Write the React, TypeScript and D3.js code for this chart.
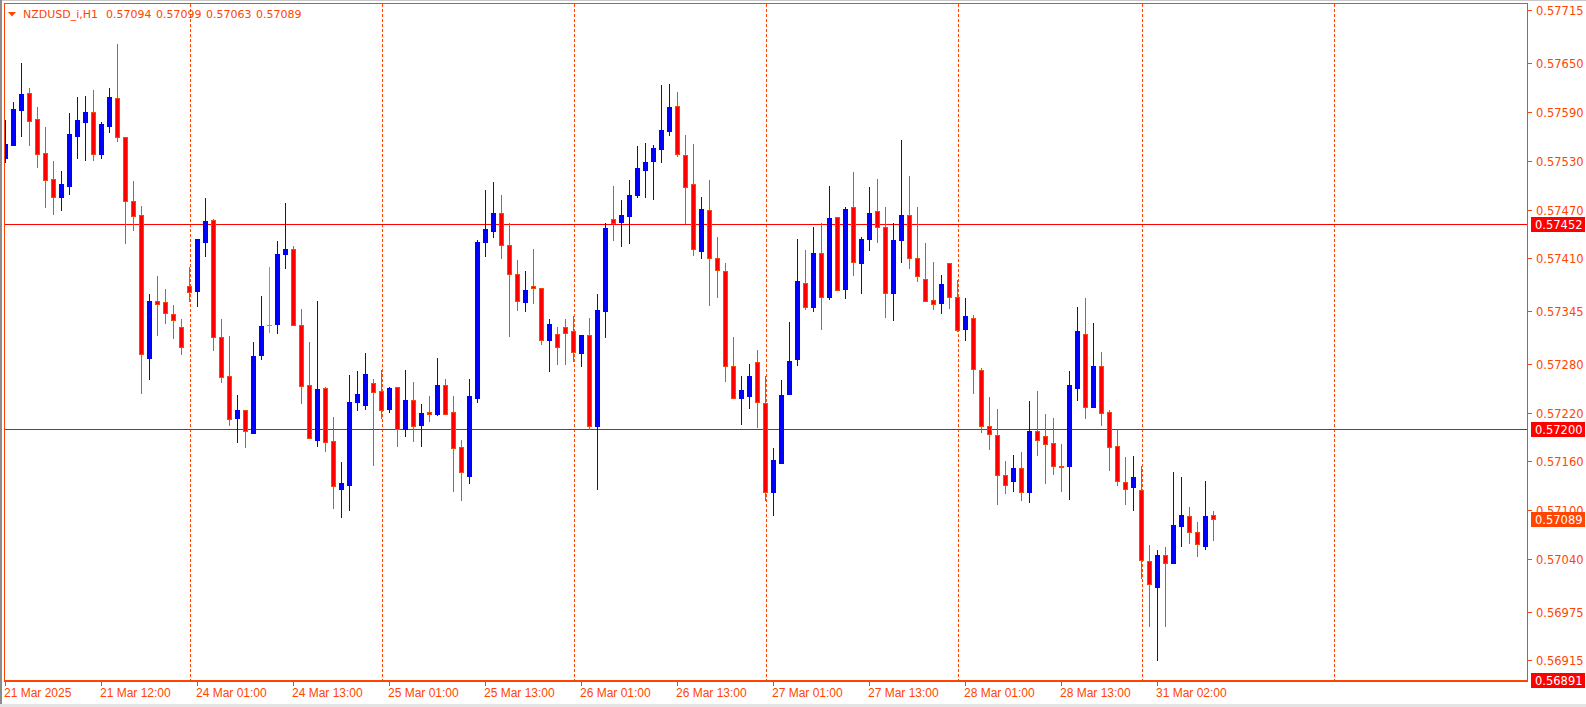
import React from 'react';
import * as d3 from 'd3';

const W = 1586;
const H = 707;

const symbolLabel = 'NZDUSD_i,H1';

// OHLC per H1 bar, bar 0 = 21 Mar 2025 00:00
const open = [
  0.57534, 0.57549, 0.57592, 0.57614, 0.57582, 0.5754, 0.57508, 0.57485, 0.57499, 0.5756,
  0.57578, 0.5759, 0.57538, 0.57573, 0.57607, 0.57559, 0.5748, 0.57463, 0.57287, 0.57357,
  0.57356, 0.57342, 0.57326, 0.57376, 0.5737, 0.5743, 0.57457, 0.57313, 0.57265, 0.57213,
  0.57223, 0.57195, 0.57291, 0.57328, 0.57329, 0.57415, 0.57421, 0.57328, 0.57254, 0.57187,
  0.57251, 0.57185, 0.57126, 0.57131, 0.57233, 0.57229, 0.57257, 0.57247, 0.57224, 0.57252,
  0.572, 0.57236, 0.57205, 0.57221, 0.57218, 0.57254, 0.57221, 0.57178, 0.57142, 0.57238,
  0.5743, 0.57444, 0.57466, 0.57427, 0.57391, 0.57356, 0.57376, 0.57374, 0.5731, 0.57317,
  0.57326, 0.5732, 0.57293, 0.57315, 0.57204, 0.57345, 0.57458, 0.57455, 0.57462, 0.57488,
  0.57519, 0.5753, 0.57544, 0.57567, 0.57598, 0.57537, 0.57501, 0.57419, 0.57469, 0.57411,
  0.57395, 0.57278, 0.57238, 0.57241, 0.57282, 0.57232, 0.57123, 0.57158, 0.57243, 0.57286,
  0.5738, 0.5735, 0.57416, 0.57362, 0.57461, 0.57372, 0.57473, 0.57404, 0.57434, 0.57468,
  0.57449, 0.57367, 0.57433, 0.57463, 0.57411, 0.57385, 0.57359, 0.57355, 0.57404, 0.57362,
  0.57323, 0.57337, 0.57273, 0.57203, 0.57193, 0.57143, 0.57136, 0.57152, 0.57123, 0.57198,
  0.57191, 0.57183, 0.57155, 0.57154, 0.57251, 0.57317, 0.57227, 0.57278, 0.57221, 0.57179,
  0.57135, 0.57128, 0.57125, 0.57038, 0.57006, 0.57045, 0.57035, 0.57081, 0.57093, 0.57073,
  0.57056, 0.57094,
];
const high = [
  0.5758, 0.57602, 0.57651, 0.5762, 0.57596, 0.57572, 0.5753, 0.57517, 0.57589, 0.57609,
  0.5761, 0.57617, 0.57578, 0.5762, 0.57674, 0.57559, 0.57505, 0.57475, 0.57366, 0.57388,
  0.57372, 0.57352, 0.57335, 0.57399, 0.57434, 0.57484, 0.57458, 0.57335, 0.57314, 0.57242,
  0.57223, 0.57307, 0.57364, 0.57399, 0.57431, 0.57478, 0.57425, 0.57347, 0.57307, 0.57358,
  0.57252, 0.57215, 0.57159, 0.57267, 0.57271, 0.57293, 0.57262, 0.57272, 0.57252, 0.57252,
  0.57273, 0.57258, 0.57231, 0.57241, 0.57287, 0.57262, 0.57241, 0.57186, 0.57262, 0.57432,
  0.57494, 0.57504, 0.57488, 0.57454, 0.57408, 0.57394, 0.57421, 0.57374, 0.57335, 0.57326,
  0.57335, 0.57339, 0.57316, 0.57336, 0.57366, 0.57454, 0.57499, 0.57482, 0.57506, 0.57548,
  0.57552, 0.57549, 0.57623, 0.57625, 0.57615, 0.57562, 0.57551, 0.57485, 0.57506, 0.57436,
  0.57404, 0.57313, 0.57265, 0.5728, 0.57297, 0.57265, 0.57176, 0.5726, 0.57332, 0.57434,
  0.5742, 0.57448, 0.57453, 0.57499, 0.57461, 0.57473, 0.57516, 0.57436, 0.57498, 0.57508,
  0.57473, 0.57453, 0.57556, 0.57511, 0.57473, 0.57429, 0.57406, 0.57389, 0.57404, 0.57383,
  0.57361, 0.5734, 0.57275, 0.57239, 0.57224, 0.57161, 0.57168, 0.57172, 0.57234, 0.57247,
  0.57218, 0.57213, 0.57182, 0.57271, 0.5735, 0.57361, 0.5733, 0.57295, 0.57223, 0.572,
  0.57166, 0.57167, 0.57155, 0.57057, 0.57051, 0.57055, 0.57147, 0.57141, 0.57104, 0.57085,
  0.57136, 0.57099,
];
const low = [
  0.57528, 0.57549, 0.5756, 0.57549, 0.57523, 0.57473, 0.57465, 0.57469, 0.57489, 0.57533,
  0.57531, 0.57531, 0.57534, 0.57565, 0.57555, 0.57429, 0.57445, 0.57244, 0.57261, 0.57315,
  0.5733, 0.57312, 0.57292, 0.57357, 0.57351, 0.57413, 0.57297, 0.57258, 0.57205, 0.57184,
  0.57178, 0.57195, 0.57286, 0.57319, 0.57318, 0.57398, 0.57328, 0.57232, 0.57189, 0.57179,
  0.57173, 0.57103, 0.57092, 0.571, 0.57223, 0.57225, 0.57156, 0.57214, 0.57221, 0.57179,
  0.57191, 0.57185, 0.57179, 0.5721, 0.57217, 0.57218, 0.57124, 0.57112, 0.57134, 0.57233,
  0.57413, 0.57436, 0.5741, 0.57314, 0.57346, 0.57345, 0.57355, 0.57304, 0.57271, 0.5728,
  0.5728, 0.57284, 0.57277, 0.572, 0.57126, 0.57313, 0.57432, 0.57425, 0.57429, 0.57486,
  0.57485, 0.57483, 0.57528, 0.57562, 0.57536, 0.57454, 0.57414, 0.57411, 0.57353, 0.57362,
  0.57259, 0.57238, 0.57206, 0.57226, 0.57202, 0.57112, 0.57094, 0.57158, 0.57243, 0.57279,
  0.57348, 0.57345, 0.57323, 0.5736, 0.57371, 0.57361, 0.5739, 0.57367, 0.5742, 0.5743,
  0.57338, 0.57334, 0.57406, 0.57398, 0.57382, 0.57358, 0.57348, 0.57343, 0.57349, 0.57321,
  0.57309, 0.57244, 0.57196, 0.57175, 0.57108, 0.57121, 0.57124, 0.57112, 0.5711, 0.57168,
  0.57133, 0.57144, 0.57124, 0.57114, 0.57235, 0.57213, 0.57227, 0.57205, 0.5715, 0.57131,
  0.57108, 0.571, 0.57017, 0.56958, 0.56916, 0.56958, 0.57035, 0.57056, 0.57059, 0.57044,
  0.57052, 0.57063,
];
const close = [
  0.57551, 0.57594, 0.57612, 0.57579, 0.57538, 0.57506, 0.57486, 0.57501, 0.57563, 0.5758,
  0.5759, 0.57538, 0.57575, 0.57609, 0.57559, 0.5748, 0.57462, 0.57292, 0.57358, 0.57354,
  0.57343, 0.57334, 0.57301, 0.57369, 0.57434, 0.57456, 0.57313, 0.57264, 0.57212, 0.57223,
  0.57198, 0.5729, 0.57327, 0.57328, 0.57415, 0.57421, 0.57328, 0.57253, 0.57189, 0.57249,
  0.57184, 0.5713, 0.57133, 0.57233, 0.57243, 0.57268, 0.57246, 0.57223, 0.57251, 0.572,
  0.57235, 0.57204, 0.5722, 0.57219, 0.57254, 0.57218, 0.57177, 0.57147, 0.5724, 0.5743,
  0.57446, 0.57466, 0.57426, 0.57391, 0.57357, 0.57371, 0.57374, 0.5731, 0.57329, 0.57301,
  0.57318, 0.57295, 0.57316, 0.57204, 0.57346, 0.57447, 0.57454, 0.57463, 0.57488, 0.57521,
  0.57529, 0.57546, 0.57568, 0.57596, 0.57538, 0.57498, 0.57421, 0.57471, 0.57411, 0.57396,
  0.57278, 0.57238, 0.57248, 0.57265, 0.57233, 0.57122, 0.57162, 0.57242, 0.57284, 0.57382,
  0.5735, 0.57416, 0.57362, 0.5746, 0.57371, 0.57471, 0.57406, 0.57434, 0.57466, 0.57448,
  0.57367, 0.57432, 0.57463, 0.5741, 0.57388, 0.57358, 0.57354, 0.57378, 0.57363, 0.57322,
  0.57339, 0.57274, 0.57203, 0.57194, 0.57143, 0.57131, 0.57152, 0.57122, 0.57198, 0.57186,
  0.57181, 0.57154, 0.57153, 0.57254, 0.5732, 0.57227, 0.57277, 0.5722, 0.57178, 0.57136,
  0.57126, 0.57141, 0.57039, 0.57009, 0.57045, 0.57035, 0.57082, 0.57094, 0.57073, 0.57058,
  0.57093, 0.57089,
];

const priceTicks = [
  0.57715, 0.5765, 0.5759, 0.5753, 0.5747, 0.5741, 0.57345, 0.5728, 0.5722, 0.5716, 0.571,
  0.5704, 0.56975, 0.56915,
];
const timeLabelBars = [0, 12, 24, 36, 48, 60, 72, 84, 96, 108, 120, 132, 144];
const timeLabels = [
  '21 Mar 2025', '21 Mar 12:00', '24 Mar 01:00', '24 Mar 13:00', '25 Mar 01:00',
  '25 Mar 13:00', '26 Mar 01:00', '26 Mar 13:00', '27 Mar 01:00', '27 Mar 13:00',
  '28 Mar 01:00', '28 Mar 13:00', '31 Mar 02:00',
];
const separatorBars = [23, 47, 71, 95, 119, 142, 166];
const levelLines = [0.57452, 0.572];
const bidPrice = 0.57089;
const priceRange = [0.56891, 0.57723];

const AXIS = '#FF4500';
const BULL = '#0000FF';
const BEAR_FILL = '#FF0000';
const BEAR_LINE = '#FF4500';
const DOJI = '#00FF00';
const LEVEL = '#FF0000';

const PL = 4, PT = 4, PR = 1527, PB = 680;

export default function App() {
  const x = d3.scaleLinear().domain([0, 1]).range([5.5, 13.5]);
  const y = d3.scaleLinear().domain(priceRange).range([PB, PT]);
  const fmt = d3.format('.5f');
  const n = close.length;
  const last = n - 1;

  const candles = d3.range(n).map((i) => {
    const o = open[i], h = high[i], l = low[i], c = close[i];
    const xc = x(i);
    const yh = Math.round(y(h));
    const yl = Math.round(y(l));
    const yTop = Math.round(y(Math.max(o, c)));
    const yBot = Math.round(y(Math.min(o, c)));
    const bx = Math.round(xc - 2.5);
    if (o === c) {
      return (
        <g key={i}>
          <rect x={bx + 2} y={yh} width={1} height={yl - yh + 1} fill={DOJI} />
          <rect x={bx} y={yTop} width={5} height={1} fill={DOJI} />
        </g>
      );
    }
    if (c > o) {
      return (
        <g key={i}>
          <rect x={bx + 2} y={yh} width={1} height={yl - yh + 1} fill={BULL} />
          <rect x={bx} y={yTop} width={5} height={Math.max(1, yBot - yTop + 1)} fill={BULL} />
        </g>
      );
    }
    const bh = Math.max(1, yBot - yTop + 1);
    return (
      <g key={i}>
        <rect x={bx + 2} y={yh} width={1} height={yl - yh + 1} fill={BEAR_LINE} />
        <rect x={bx} y={yTop} width={5} height={bh} fill={BEAR_LINE} />
        {bh > 2 && <rect x={bx + 1} y={yTop + 1} width={3} height={bh - 2} fill={BEAR_FILL} />}
      </g>
    );
  });

  const headerVals = [open[last], high[last], low[last], close[last]];
  const headerX = [106, 156, 206, 256];

  const boxLabel = (p: number, color: string, key: string) => {
    const yc = Math.round(y(p));
    return (
      <g key={key}>
        <rect x={1531} y={yc - 7} width={54} height={15} fill={color} />
        <text x={1535} y={yc + 0.5} dominantBaseline="central" fill="#FFFFFF"
          fontFamily="DejaVu Sans, Verdana, sans-serif" fontSize={11.5}>{fmt(p)}</text>
      </g>
    );
  };

  return (
    <svg width={W} height={H} style={{ position: 'absolute', left: 0, top: 0, background: '#FFFFFF' }}
      shapeRendering="crispEdges">
      <defs>
        <clipPath id="plot">
          <rect x={PL + 1} y={PT + 1} width={PR - PL - 1} height={PB - PT - 1} />
        </clipPath>
      </defs>
      <rect x={0} y={0} width={W} height={H} fill="#FFFFFF" />
      {/* window chrome */}
      <rect x={0} y={0} width={W} height={1} fill="#C8C8C8" />
      <rect x={0} y={0} width={2} height={H} fill="#8C8C8C" />
      <rect x={0} y={704} width={W} height={3} fill="#E4E4E4" />

      {/* day separators */}
      {separatorBars.map((b) => (
        <line key={'s' + b} x1={Math.round(x(b)) - 0.5 + 0.5} x2={Math.round(x(b)) - 0.5 + 0.5}
          y1={PT} y2={PB} stroke={AXIS} strokeWidth={1} strokeDasharray="3,2" />
      ))}

      {/* horizontal levels */}
      {levelLines.map((p) => (
        <rect key={'l' + p} x={PL} y={Math.round(y(p))} width={PR - PL} height={1} fill={LEVEL} />
      ))}

      <g clipPath="url(#plot)">{candles}</g>

      {/* frame */}
      <rect x={PL + 0.5} y={PT - 0.5} width={PR - PL} height={PB - PT + 1} fill="none" stroke={AXIS} strokeWidth={1} />
      <rect x={PL} y={PB + 1} width={PR - PL + 1} height={1} fill={AXIS} />

      {/* price axis */}
      {priceTicks.map((p) => {
        const yy = Math.round(y(p));
        return (
          <g key={'p' + p}>
            <rect x={PR + 1} y={yy} width={4} height={1} fill={AXIS} />
            <text x={1536} y={yy + 0.5} dominantBaseline="central" fill={AXIS}
              fontFamily="DejaVu Sans, Verdana, sans-serif" fontSize={11.5}>{fmt(p)}</text>
          </g>
        );
      })}
      {levelLines.map((p) => boxLabel(p, LEVEL, 'b' + p))}
      {boxLabel(bidPrice, AXIS, 'bid')}
      {boxLabel(priceRange[0], LEVEL, 'min')}

      {/* time axis */}
      {timeLabelBars.map((b, k) => {
        const xx = Math.round(x(b) - 0.5);
        return (
          <g key={'t' + b}>
            <rect x={xx} y={PB + 2} width={1} height={4} fill={AXIS} />
            <text x={xx - 1} y={697} fill={AXIS} fontFamily="Liberation Sans, Arial, sans-serif"
              fontSize={12}>{timeLabels[k]}</text>
          </g>
        );
      })}

      {/* header */}
      <path d="M8,12 L16,12 L12,16.5 Z" fill={AXIS} shapeRendering="geometricPrecision" />
      <text x={23} y={18} fill={AXIS} fontFamily="DejaVu Sans, Verdana, sans-serif" fontSize={11}>{symbolLabel}</text>
      {headerVals.map((v, k) => (
        <text key={'h' + k} x={headerX[k]} y={18} fill={AXIS}
          fontFamily="DejaVu Sans, Verdana, sans-serif" fontSize={11}>{fmt(v)}</text>
      ))}
    </svg>
  );
}
